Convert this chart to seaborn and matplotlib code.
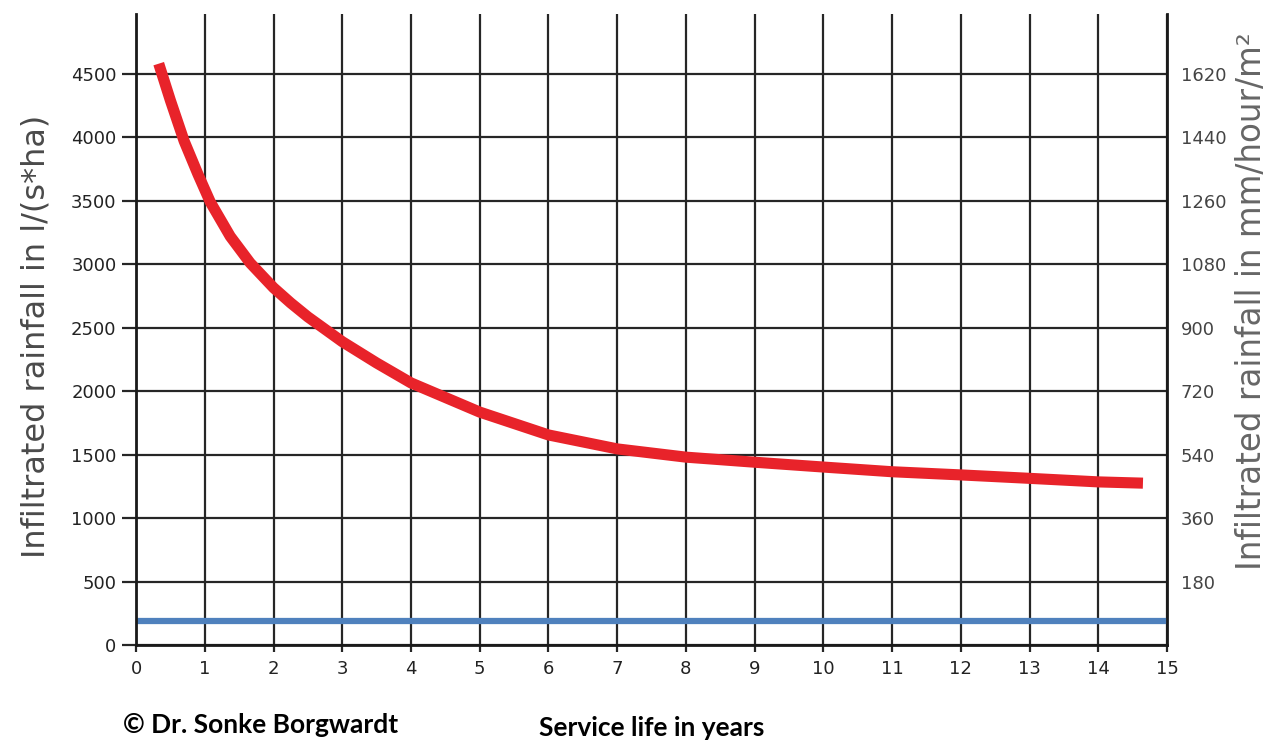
import matplotlib
matplotlib.use("Agg")
import matplotlib.pyplot as plt
import seaborn as sns
import pandas as pd
import numpy as np

# values
years = [0.33, 0.5, 0.7, 0.9, 1.08, 1.37, 1.66, 2, 2.25, 2.5, 3, 3.5, 4, 5, 6, 7, 8,
         9, 10, 11, 12, 13, 14, 14.65]
rainfall = [4580, 4290, 3970, 3710, 3490, 3220, 3010, 2815, 2695, 2585, 2390, 2222,
            2065, 1835, 1655, 1545, 1480, 1440, 1402, 1365, 1340, 1313, 1285, 1275]
base_years = [0, 15]
base_level = [190, 190]

left_ticks = [0, 500, 1000, 1500, 2000, 2500, 3000, 3500, 4000, 4500]
right_ticks = [180, 360, 540, 720, 900, 1080, 1260, 1440, 1620]
x_ticks = list(range(0, 16))
factor = 0.36  # l/(s*ha) -> mm/hour/m2 as labelled on the right axis

sns.set_theme(style="white")
plt.rcParams['font.family'] = ['DejaVu Sans']

df_curve = pd.DataFrame({'Years': years, 'Rainfall': rainfall})
df_base = pd.DataFrame({'Years': base_years, 'Rainfall': base_level})

fig = plt.figure(figsize=(12.75, 7.46), dpi=100)
ax = fig.add_axes([0.1067, 0.1354, 0.8086, 0.8456])

ymax = 4970
ax.set_xlim(0, 15)
ax.set_ylim(0, ymax)
ax.set_xticks(x_ticks)
ax.set_yticks(left_ticks)

ax.grid(True, color='#262626', linewidth=1.6)
ax.set_axisbelow(True)

sns.lineplot(ax=ax, data=df_base, x='Years', y='Rainfall', color='#4F81BD',
             linewidth=4.5, solid_capstyle='butt')
sns.lineplot(ax=ax, data=df_curve, x='Years', y='Rainfall', color='#E8232A',
             linewidth=8, solid_capstyle='butt', solid_joinstyle='round')

for side in ['left', 'bottom', 'right']:
    ax.spines[side].set_visible(True)
    ax.spines[side].set_color('#1a1a1a')
    ax.spines[side].set_linewidth(2)
ax.spines['top'].set_visible(False)

ax.tick_params(axis='y', which='major', length=10, width=1.6, color='#262626',
               labelsize=13, labelcolor='#222222', pad=4, left=True)
ax.tick_params(axis='x', which='major', length=5, width=1.6, color='#262626',
               labelsize=13, labelcolor='#222222', pad=6, bottom=True)

ax.set_ylabel('Infiltrated rainfall in l/(s*ha)', fontsize=23, color='#4a4a4a')
ax.yaxis.set_label_coords(-0.082, 0.49)
ax.set_xlabel('Service life in years', fontsize=19, fontweight='bold', color='black',
              labelpad=27, family=['Lato', 'DejaVu Sans'])

ax2 = ax.twinx()
ax2.set_ylim(0, ymax * factor)
ax2.set_yticks(right_ticks)
ax2.tick_params(axis='y', length=0, labelsize=13, labelcolor='#444444', pad=10)
for side in ['left', 'bottom', 'top', 'right']:
    ax2.spines[side].set_visible(False)
ax2.grid(False)
ax2.set_ylabel('Infiltrated rainfall in mm/hour/m\u00b2', fontsize=23.5, color='#666666')
ax2.yaxis.set_label_coords(1.066, 0.545)

fig.text(0.0965, 0.0174, '\u00a9 Dr. Sonke Borgwardt', fontsize=19, fontweight='bold',
         color='black', va='baseline', family=['Lato', 'DejaVu Sans'])

fig.savefig('out.png', dpi=100, facecolor='white')
